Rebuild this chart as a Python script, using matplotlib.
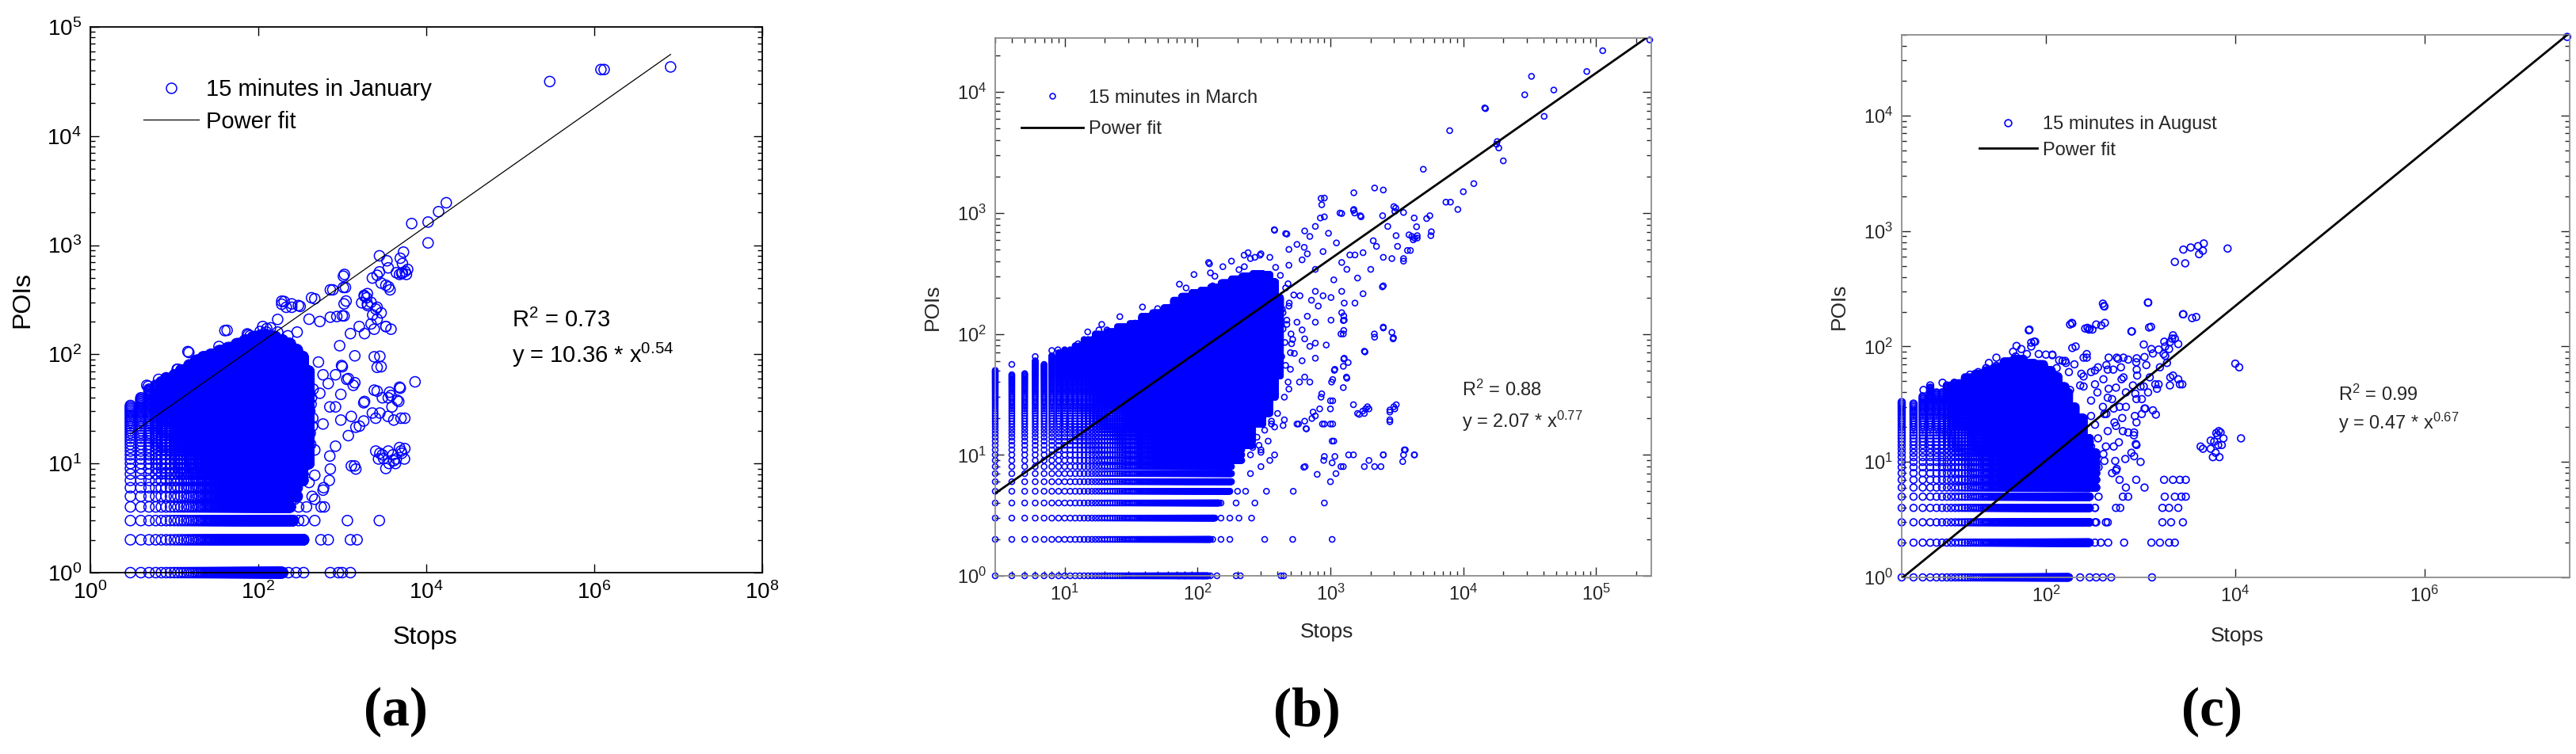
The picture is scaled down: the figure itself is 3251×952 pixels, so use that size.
import numpy as np
import matplotlib
matplotlib.use("Agg")
import matplotlib.pyplot as plt
from matplotlib.ticker import LogLocator, NullLocator, FixedLocator
from matplotlib.lines import Line2D

plt.rcParams['font.family'] = ['Liberation Sans', 'DejaVu Sans']
plt.rcParams['mathtext.fontset'] = 'custom'
plt.rcParams['mathtext.rm'] = 'Liberation Sans'
plt.rcParams['mathtext.it'] = 'Liberation Sans:italic'
plt.rcParams['mathtext.default'] = 'regular'

# ---- (a) January ----
# dense core, read as blocks of integer (stops, POIs): stops x0..x1, POIs y0..y1
a_blk_x0 = [3, 4, 5, 6, 7, 8, 10, 12, 15, 18, 22, 27, 34, 43, 55, 69, 86, 106, 131, 161,
            196, 241, 291, 341, 196, 196]
a_blk_x1 = [3, 4, 5, 6, 7, 9, 11, 14, 17, 21, 26, 33, 42, 54, 68, 85, 105, 130, 160, 195,
            240, 290, 340, 400, 346, 260]
a_blk_y0 = [1, 1, 1, 1, 1, 1, 1, 1, 1, 1, 1, 1, 1, 1, 1, 1, 1, 1, 1, 1,
            4, 5, 7, 10, 2, 3]
a_blk_y1 = [34, 40, 48, 52, 56, 60, 65, 72, 80, 88, 95, 100, 108, 115, 125, 135, 145, 150, 145, 135,
            125, 110, 95, 70, 2, 3]
# scattered points
a_pts_x = [2.95e5, 1.2e6, 1.31e6, 8.1e6, 17300, 14000, 10500, 6700, 10500, 5350,
           2770, 3400, 4900, 5200, 4400, 4800, 5200, 5600, 6000, 5800,
           3560, 3700, 3300, 2770, 2280, 2900, 1060, 720, 1090, 1820,
           1950, 1700, 2000, 2200, 2500, 2300, 2600, 2200, 3300, 2400,
           470, 1050, 315, 190, 720, 1050, 1250, 930, 1410, 2400,
           2600, 980, 7350, 1130, 680, 1410, 2400, 4800, 3000, 3800,
           4500, 1800, 2280, 3900, 3500, 2500, 5000, 1800, 1450, 2500,
           2700, 3000, 3600, 4000, 4400, 5000, 5500, 4800, 3300, 4300,
           1400, 1450, 720, 700, 600, 470, 1150, 2760, 556, 680,
           1250, 1500, 720, 900, 1000, 1250, 40, 74, 190, 215,
           250, 14.5, 11, 4.7, 170, 125, 140, 229, 282, 346,
           240, 302, 346, 240, 302, 375, 610, 280, 437,
           203, 250, 300, 430, 770, 1030, 1030, 1110, 1000, 860,
           540, 402, 290, 225, 170, 130, 80, 113, 1840, 1990,
           2600, 2900, 3300, 3800, 1590, 1840, 3525, 5100, 2600, 1990,
           2800, 2900, 2600, 3650, 4900, 3525, 4700, 2800, 4100, 5550,
           1840, 1280, 1600, 1180, 830, 1000, 1180, 1350, 960, 540,
           590, 830, 520, 710, 590, 960, 470, 830, 2800, 3525,
           5100, 4100, 3100, 5550, 1280, 710, 470, 590, 402, 270,
           470, 560, 4.9, 6.5, 8.0, 10.8, 14.9, 19.2, 27.5, 34,
           42.5, 57, 76, 105, 126, 420, 440, 410, 430, 450,
           415, 445, 425]
a_pts_y = [3.16e4, 4.07e4, 4.07e4, 4.3e4, 2450, 2030, 1630, 1580, 1050, 865,
           800, 720, 760, 680, 560, 540, 560, 575, 600, 540,
           415, 390, 430, 570, 500, 450, 540, 390, 410, 347,
           330, 297, 280, 300, 260, 230, 210, 190, 180, 170,
           323, 290, 275, 288, 219, 225, 155, 120, 97, 95,
           76, 79, 56, 59, 54, 55, 47, 50, 40, 42,
           38, 36, 29, 33, 27, 26, 26, 24.5, 21.5, 13,
           11, 12, 10, 12, 11, 13, 11, 14, 9, 10,
           9.5, 8.9, 8.9, 7, 6, 3, 3, 3, 2, 2,
           2, 2, 1, 1, 1, 1, 165, 154, 307, 270,
           290, 106, 73, 52, 209, 160, 175, 1, 1, 1,
           3, 3, 3, 4, 4, 4, 4, 5, 5,
           305, 270, 280, 330, 390, 520, 410, 308, 226, 222,
           200, 210, 160, 148, 160, 148, 148, 180, 340, 290,
           270, 240, 180, 170, 180, 155, 620, 550, 530, 360,
           96, 77, 46, 45, 49, 40, 37, 29, 25, 26,
           37, 27, 22, 18, 33, 77, 60, 52, 43, 44,
           65, 65, 85, 33, 23, 25, 13.3, 14.4, 12.4, 13,
           12.4, 10.6, 11.1, 13.7, 9.5, 11.7, 7.8, 5.7, 6.7, 4.7,
           4.7, 4.0, 51, 59, 61, 73, 104, 89, 100, 118,
           166, 121, 151, 162, 172, 15, 22, 30, 40, 48,
           19, 26, 35]
a_fit_x = [3, 8.1e6]
a_fit_y = [18.6, 5.6e4]

# ---- (b) March ----
b_blk_x0 = [3, 4, 5, 6, 7, 8, 9, 10, 12, 14, 17, 21, 25, 31, 38, 46, 56, 66, 76, 91,
            106, 126, 151, 181, 216, 261, 311, 351, 386, 76, 91, 106, 126, 151]
b_blk_x1 = [3, 4, 5, 6, 7, 8, 9, 11, 13, 16, 20, 24, 30, 37, 45, 55, 65, 75, 90, 105,
            125, 150, 180, 215, 260, 310, 350, 385, 420, 120, 125, 135, 145, 175]
b_blk_y0 = [1, 1, 1, 1, 1, 1, 1, 1, 1, 1, 1, 1, 1, 1, 1, 1, 1, 1, 2, 3,
            4, 5, 6, 9, 12, 18, 22, 30, 45, 1, 2, 3, 4, 5]
b_blk_y1 = [50, 46, 47, 60, 56, 66, 70, 74, 80, 90, 100, 105, 115, 122, 140, 150, 165, 190, 205, 220,
            230, 245, 265, 285, 300, 315, 310, 270, 200, 1, 2, 3, 4, 5]
b_pts_x = [2.53e5, 1.12e5, 8.5e4, 3.26e4, 4.8e4, 2.9e4, 1.45e4, 1.47e4, 4.06e4, 7900,
           1.8e4, 1.78e4, 1.85e4, 2.0e4, 5000, 1.2e4, 1.0e4, 7400, 8000, 9100,
           5600, 5300, 5750, 5700, 4450, 3900, 4100, 4300, 4500, 4200,
           3550, 4000, 3000, 3050, 2500, 2150, 1500, 1500, 1520, 850,
           860, 1180, 1700, 380, 470, 121, 900, 2460, 2500, 2900,
           2150, 2960, 1820, 1260, 1250, 1260, 1250, 1260, 1250, 1320,
           1070, 1020, 1000, 1000, 1000, 1030, 850, 830, 870, 740,
           660, 725, 575, 630, 645, 795, 890, 1000, 1030, 1100,
           1200, 1250, 1370, 1800, 1950, 2150, 2400, 2500, 2800, 2800,
           3000, 3050, 3550, 3500, 3600, 4300, 1800, 1950, 1750, 1650,
           8.9, 12.6, 14.9, 18.1, 20.8, 26, 34, 38.5, 50, 73,
           82, 94, 123, 135, 155, 205, 224, 295, 4, 6,
           8, 19, 125, 180, 250, 130, 72, 80, 90, 100,
           110, 125, 140, 195, 210, 425, 445, 130, 150, 175,
           320, 520, 1030, 150, 175, 205, 255, 150, 195, 270,
           900, 200, 230, 330, 525, 250, 300, 350, 200,
           280, 320, 360, 400, 290, 340, 380, 250, 300, 450,
           480, 460, 500, 520, 470, 440, 490, 530, 430, 455,
           440, 470, 435, 460, 480, 505]
b_pts_y = [2.7e4, 2.2e4, 1.48e4, 1.35e4, 1.04e4, 9500, 7400, 7300, 6300, 4800,
           3900, 3700, 3450, 2700, 2300, 1750, 1500, 1230, 1230, 1070,
           950, 900, 700, 650, 770, 660, 640, 620, 650, 600,
           400, 490, 1130, 1030, 1550, 1610, 1470, 1070, 1000, 1320,
           1170, 1000, 930, 720, 670, 390, 930, 245, 112, 103,
           94, 91, 71, 141, 129, 107, 100, 62, 54, 44,
           50, 40, 28, 24, 18, 13, 30, 24, 18, 22.6,
           16.4, 20, 18, 7.9, 8, 6.9, 9, 6, 8.6, 7,
           8, 8, 10, 8, 9, 8, 8, 10, 18.8, 22.6,
           25, 24, 10, 8.8, 11, 10, 22, 24, 23, 21.6,
           74, 83, 104, 108, 108, 139, 123, 167, 162, 258,
           240, 310, 380, 300, 360, 340, 448, 448, 56, 65,
           73, 120, 320, 400, 420, 250, 1, 1, 1, 1,
           1, 1, 1, 1, 1, 1, 1, 2, 2, 2,
           2, 2, 2, 3, 3, 3, 3, 4, 4, 4,
           4, 5, 5, 5, 5, 7, 8, 9, 9,
           14, 16, 19, 22, 12, 13, 17, 10, 11, 30,
           40, 55, 70, 90, 120, 150, 180, 210, 65, 85,
           110, 130, 160, 240, 260, 100]
# right-hand spread of the March cloud (x 200 - 5000)
b_spread_x = [378, 460, 640, 770, 840, 1216, 1490, 1680, 900, 2470,
              3100, 3550, 4270, 4500, 3120, 2700, 2100, 2220, 2500, 2900,
              3550, 3800, 3200, 1760, 1400, 1110, 967, 700, 560, 670,
              880, 1216, 1530, 2010, 1600, 2500, 1330, 1060, 770, 1216,
              1760, 1270, 1530, 1010, 1216, 1270, 1200, 1010, 930, 770,
              612, 770, 2140, 2500, 2980, 1800, 1270, 1360, 1080, 1040,
              1330, 1250, 640, 700, 860, 1040, 1490, 1840, 1900, 2800,
              3130, 2800, 1600, 1040, 900, 655, 560, 450, 360, 440,
              1060, 640, 770, 1490, 2500, 3660, 4270, 900, 1080, 380,
              300, 260, 245, 220, 308, 387, 487, 585, 500, 410,
              320, 535, 700, 770, 612, 640, 510, 415, 560, 670,
              810, 880, 720, 590, 487, 405, 360, 300, 245, 308,
              387, 487, 612, 770, 635, 487, 350, 270, 240, 300,
              225, 420]
b_spread_y = [728, 676, 710, 775, 910, 990, 1050, 950, 1330, 950,
              1100, 1010, 910, 620, 650, 775, 590, 530, 430, 420,
              420, 490, 530, 470, 450, 566, 680, 640, 550, 460,
              480, 390, 450, 342, 290, 250, 342, 280, 225, 225,
              215, 180, 180, 200, 150, 130, 100, 130, 81, 125,
              108, 84, 100, 114, 93, 72, 63, 58, 51, 42,
              43, 36, 44, 40, 32, 28, 26, 24, 25, 23.5,
              26, 19.5, 22, 18, 18, 16.5, 18, 19.5, 18, 17.5,
              13, 19, 21, 10, 10, 11, 10, 9.7, 9.7, 10,
              10.5, 11.5, 16, 22, 28, 32, 35, 40, 51, 62,
              46, 69, 79, 63, 60, 91, 83, 104, 125, 140,
              170, 207, 190, 207, 170, 190, 150, 190, 260, 310,
              355, 370, 410, 342, 520, 500, 430, 430, 470, 460,
              360, 305]
b_fit_x = [3, 2.6e5]
b_fit_y = [4.8, 3.0e4]

# ---- (c) August ----
c_blk_x0 = [3, 4, 5, 6, 7, 9, 11, 14, 18, 23, 29, 36, 46, 59, 76, 96, 116, 136, 161, 176,
            206, 251, 291]
c_blk_x1 = [3, 4, 5, 6, 8, 10, 13, 17, 22, 28, 35, 45, 58, 75, 95, 115, 135, 160, 175, 205,
            250, 290, 340]
c_blk_y0 = [1, 1, 1, 1, 1, 1, 1, 1, 1, 1, 1, 1, 1, 1, 1, 1, 1, 1, 1, 2,
            2, 2, 6]
c_blk_y1 = [33, 32, 37, 44, 40, 46, 48, 54, 58, 62, 66, 74, 78, 72, 70, 62, 55, 45, 40, 30,
            24, 16, 12]
c_pts_x = [3.2e7, 2300, 2960, 2830, 3380, 4050, 4650, 4550, 4150, 8300,
           1200, 2830, 3870, 410, 188, 275, 310, 420, 1290, 810,
           67, 75, 206, 270, 1.0e4, 1.1e4, 1.15e4, 4560, 5500, 6000,
           6500, 7000, 7500, 6200, 6800, 7200, 5800, 6600, 2200, 2500,
           2760, 2040, 1490, 1450, 1100, 905, 830, 1770, 2200, 2600,
           3000, 1800, 2300, 2700, 3000, 1700, 2000, 2500, 1700, 2100,
           2800, 1300, 1600, 2000, 2300, 1320, 740, 610, 450, 670,
           330, 340, 455, 290, 230, 340, 490, 400, 330, 380,
           740, 910, 1100, 1350, 1550, 1820, 2040, 2300, 2200, 2500,
           1820, 1900, 1600, 1150, 910, 630, 515, 435, 355, 405,
           330, 460, 560, 300, 250, 200, 160, 130, 100, 70,
           55, 45, 30, 25, 435, 530, 640, 740, 905, 690,
           560, 405, 905, 1030, 590, 355, 310, 850, 1200, 1000,
           700, 600, 500, 400, 800, 1000, 1100, 900, 600, 700,
           500, 300, 350, 250,
           5.1, 6.0, 8.1, 10.8, 15.8, 19.3, 23.4, 30, 49, 48,
           63, 77, 66, 117, 138, 163, 190, 290, 415, 1200]
c_pts_y = [4.8e4, 540, 525, 690, 720, 740, 780, 675, 630, 705,
           240, 190, 180, 224, 160, 145, 140, 160, 148, 135,
           140, 110, 100, 80, 71, 66, 16, 13, 13, 15,
           17, 18, 16, 12, 11, 14, 11, 14, 56, 52,
           47, 46, 43, 25.7, 29, 35, 46, 7, 7, 7,
           7, 5, 5, 5, 5, 4, 4, 4, 3, 3,
           3, 2, 2, 2, 2, 1, 5, 4, 3, 2,
           4, 3, 2, 1, 1, 1, 1, 1, 2, 2,
           77, 79, 81, 87, 94, 100, 109, 117, 125, 105,
           83, 72, 66, 69, 63, 52, 63, 69, 66, 52,
           47, 43, 80, 60, 55, 70, 75, 65, 85, 100,
           95, 90, 80, 72, 26, 22, 24, 18, 14, 10.6,
           8.7, 11.7, 22, 26, 14.8, 16, 8.3, 17, 40, 45,
           40, 30, 35, 30, 12, 10, 6, 7, 7, 6,
           8, 25, 40, 45,
           42, 46, 48.5, 48.5, 57, 60, 65, 68, 101, 82,
           86, 110, 138, 84, 76, 72, 158, 142, 222, 240]
# spread along the fit line (x 65 - 8000)
c_spread_x = [400, 1200, 180, 260, 285, 340, 385, 800, 1230, 2800,
              3500, 70, 190, 117, 150, 84, 250, 270, 460, 580,
              660, 1080, 1300, 1780, 2150, 2000, 1750, 900, 620, 450,
              330, 237, 175, 230, 180, 550, 450, 300, 660, 920,
              1250, 1550, 2060, 2600, 1430, 1080, 880, 1030, 1350, 1120,
              870, 700, 520, 415, 330, 237, 300, 450, 550, 650,
              855, 430, 520, 855, 890, 540, 415, 550, 300, 360,
              4300, 5500, 6300, 6700, 650, 550, 430, 330, 330, 360]
c_spread_y = [235, 240, 155, 143, 140, 155, 152, 135, 146, 190,
              176, 108, 97, 85, 75, 86, 80, 86, 80, 78,
              80, 104, 95, 110, 117, 95, 86, 73, 66, 63,
              62, 58, 60, 46, 42, 44, 36, 34, 54, 56,
              54, 47, 54, 47, 47, 45, 39, 35, 28, 29,
              25, 30, 29, 26, 21, 17, 13.6, 18.5, 20.5, 18.5,
              18, 13.6, 13.6, 11.2, 14.3, 10.2, 10.2, 8.4, 10.2, 9,
              13.6, 15.3, 17.8, 18.5, 5, 4, 3, 3, 4, 5]
c_fit_x = [3, 3.4e7]
c_fit_y = [0.98, 5.2e4]


def block_points(x0, x1, y0, y1):
    xs, ys = [], []
    for p, q, r, s in zip(x0, x1, y0, y1):
        gx, gy = np.meshgrid(np.arange(p, q + 1), np.arange(r, s + 1))
        xs.append(gx.ravel())
        ys.append(gy.ravel())
    pts = np.unique(np.column_stack([np.concatenate(xs), np.concatenate(ys)]), axis=0)
    return pts[:, 0].astype(float), pts[:, 1].astype(float)


W, H = 3251, 952
fig = plt.figure(figsize=(W / 100, H / 100), dpi=100)

panels = [
    dict(blk=(a_blk_x0, a_blk_x1, a_blk_y0, a_blk_y1), px=a_pts_x, py=a_pts_y, sx=[], sy=[],
         fx=a_fit_x, fy=a_fit_y, rect=(114, 34, 962, 723), xlim=(1, 1e8), ylim=(1, 1e5),
         xticks=[1, 1e2, 1e4, 1e6, 1e8], xminor=False, s=88, mlw=1.1, flw=0.9,
         fs_tick=20, fs_lab=23, fs_leg=21, frame='black', txt='black',
         leg_name='15 minutes in January', leg_anchor=(0.079, 0.905), leg_hl=2.4,
         leg_sp=0.42, r2=('R$^2$ = 0.73', 'y = 10.36 * x$^{0.54}$'), r2_pos=(0.627, 0.463, 0.398),
         ylab=(-0.101, 0.5), xlab=(0.498, -0.119), tag='(a)', tag_x=499),
    dict(blk=(b_blk_x0, b_blk_x1, b_blk_y0, b_blk_y1), px=b_pts_x, py=b_pts_y,
         sx=b_spread_x, sy=b_spread_y,
         fx=b_fit_x, fy=b_fit_y, rect=(1256, 48, 2084, 727), xlim=(3, 2.6e5), ylim=(1, 2.8e4),
         xticks=[10, 1e2, 1e3, 1e4, 1e5], xminor=True, s=25, mlw=1.15, flw=2.0,
         fs_tick=17, fs_lab=19, fs_leg=17, frame='#8c8c8c', txt='#262626',
         leg_name='15 minutes in March', leg_anchor=(0.040, 0.905), leg_hl=3.3,
         leg_sp=0.75, r2=('R$^2$ = 0.88', 'y = 2.07 * x$^{0.77}$'), r2_pos=(0.711, 0.345, 0.287),
         ylab=(-0.095, 0.5), xlab=(0.506, -0.105), tag='(b)', tag_x=1649),
    dict(blk=(c_blk_x0, c_blk_x1, c_blk_y0, c_blk_y1), px=c_pts_x, py=c_pts_y,
         sx=c_spread_x, sy=c_spread_y,
         fx=c_fit_x, fy=c_fit_y, rect=(2400, 44, 3243, 729), xlim=(3, 3.4e7), ylim=(1, 5e4),
         xticks=[1e2, 1e4, 1e6], xminor=False, s=40, mlw=1.2, flw=2.0,
         fs_tick=17, fs_lab=19, fs_leg=17, frame='#8c8c8c', txt='#262626',
         leg_name='15 minutes in August', leg_anchor=(0.116, 0.851), leg_hl=3.1,
         leg_sp=0.45, r2=('R$^2$ = 0.99', 'y = 0.47 * x$^{0.67}$'), r2_pos=(0.654, 0.337, 0.285),
         ylab=(-0.094, 0.5), xlab=(0.502, -0.108), tag='(c)', tag_x=2791),
]

for p in panels:
    l, t, r, b = p['rect']
    ax = fig.add_axes([l / W, 1 - b / H, (r - l) / W, (b - t) / H])
    ax.set_xscale('log')
    ax.set_yscale('log')

    cx, cy = block_points(*p['blk'])
    allx = np.concatenate([cx, p['px'], p['sx']])
    ally = np.concatenate([cy, p['py'], p['sy']])
    ax.scatter(allx, ally, s=p['s'], facecolors='none', edgecolors='#0000ff',
               linewidths=p['mlw'], zorder=2, clip_on=False)
    ax.plot(p['fx'], p['fy'], color='black', lw=p['flw'], zorder=3)

    ax.set_xlim(*p['xlim'])
    ax.set_ylim(*p['ylim'])
    ax.xaxis.set_major_locator(FixedLocator(p['xticks']))
    if p['xminor']:
        ax.xaxis.set_minor_locator(LogLocator(base=10, subs=np.arange(2, 10), numticks=50))
    else:
        ax.xaxis.set_minor_locator(NullLocator())
    ax.yaxis.set_major_locator(LogLocator(base=10, numticks=20))
    ax.yaxis.set_minor_locator(LogLocator(base=10, subs=np.arange(2, 10), numticks=50))

    ax.tick_params(which='both', direction='in', top=True, right=True,
                   colors=p['txt'], labelsize=p['fs_tick'], width=1.0)
    ax.tick_params(which='major', length=8, pad=8)
    ax.tick_params(which='minor', length=4)
    for sp in ax.spines.values():
        sp.set_color(p['frame'])
        sp.set_linewidth(1.3)

    ax.set_xlabel('Stops', fontsize=p['fs_lab'], color=p['txt'])
    ax.set_ylabel('POIs', fontsize=p['fs_lab'], color=p['txt'])
    ax.xaxis.set_label_coords(*p['xlab'])
    ax.yaxis.set_label_coords(*p['ylab'])
    ax.xaxis.label.set_va('center')
    ax.yaxis.label.set_va('center')

    handles = [Line2D([], [], ls='none', marker='o', markerfacecolor='none',
                      markeredgecolor='#0000ff', markersize=np.sqrt(p['s']),
                      markeredgewidth=p['mlw']),
               Line2D([], [], color='black', lw=p['flw'])]
    ax.legend(handles, [p['leg_name'], 'Power fit'], loc='upper left',
              bbox_to_anchor=p['leg_anchor'], frameon=False, borderpad=0,
              borderaxespad=0, handlelength=p['leg_hl'], handletextpad=0.3,
              labelspacing=p['leg_sp'], fontsize=p['fs_leg'], labelcolor=p['txt'])

    rx, ry1, ry2 = p['r2_pos']
    ax.text(rx, ry1, p['r2'][0], transform=ax.transAxes, fontsize=p['fs_leg'],
            color=p['txt'], va='center', ha='left')
    ax.text(rx, ry2, p['r2'][1], transform=ax.transAxes, fontsize=p['fs_leg'],
            color=p['txt'], va='center', ha='left')

    fig.text(p['tag_x'] / W, 1 - 899 / H, p['tag'], fontsize=50, fontweight='bold',
             family=['Liberation Serif', 'DejaVu Serif'], ha='center', va='center')

fig.savefig('out.png', dpi=100, facecolor='white')
